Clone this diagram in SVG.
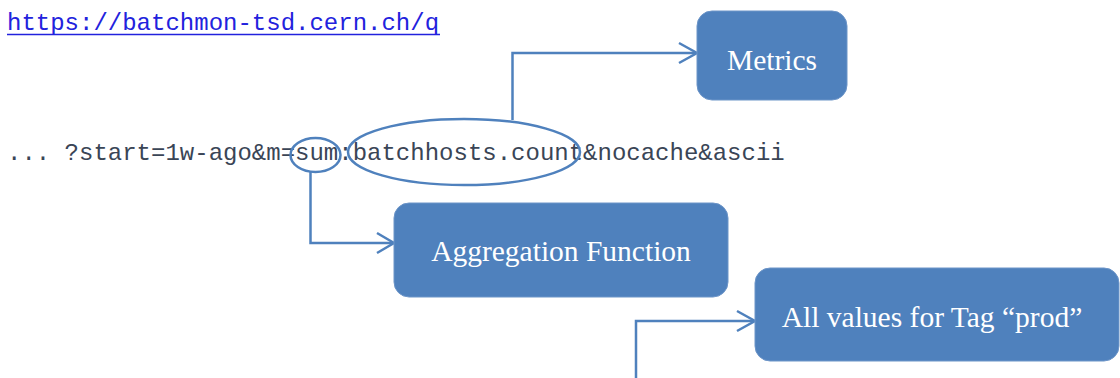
<svg xmlns="http://www.w3.org/2000/svg" width="1120" height="378" viewBox="0 0 1120 378">
<style>
.box{fill:#4f81bd;stroke:#6d95c8;stroke-width:1}
.lbl{font-family:"Liberation Serif","Times New Roman",serif;font-size:29.5px;fill:#ffffff;text-anchor:middle}
.mono{font-family:"Liberation Mono","Courier New",monospace;font-size:24px}
.con{fill:none;stroke:#4f81bd;stroke-width:2.5}
</style>
<rect width="1120" height="378" fill="#ffffff"/>
<g id="url">
<text class="mono" x="7" y="30" fill="#2222dd">https://batchmon-tsd.cern.ch/q</text>
<line x1="7" y1="34.5" x2="440" y2="34.5" stroke="#2222dd" stroke-width="1.5"/>
</g>
<g id="query">
<text class="mono" x="7" y="160" fill="#3a4556">... ?start=1w-ago&amp;m=sum:batchhosts.count&amp;nocache&amp;ascii</text>
</g>
<g id="sum-ellipse"><ellipse class="con" cx="315.5" cy="155" rx="25" ry="17"/></g>
<g id="metric-ellipse"><ellipse class="con" cx="464" cy="152" rx="116" ry="33"/></g>
<g id="connectors">
<polyline class="con" points="512.5,120 512.5,53 696,53"/>
<polyline class="con" points="679,43 697,53 679,63"/>
<polyline class="con" points="310.5,172 310.5,243 393,243"/>
<polyline class="con" points="377,233 394,243 377,253"/>
<polyline class="con" points="636,378 636,321 754,321"/>
<polyline class="con" points="737,311 755,321 737,331"/>
</g>
<g id="metrics">
<rect class="box" x="697" y="11" width="150" height="89" rx="15"/>
<text class="lbl" x="772" y="70">Metrics</text>
</g>
<g id="aggregation">
<rect class="box" x="394" y="203" width="334" height="94" rx="15"/>
<text class="lbl" x="561" y="261">Aggregation Function</text>
</g>
<g id="tag">
<rect class="box" x="755" y="268" width="364" height="93" rx="15"/>
<text class="lbl" x="932" y="327">All values for Tag “prod”</text>
</g>
</svg>
